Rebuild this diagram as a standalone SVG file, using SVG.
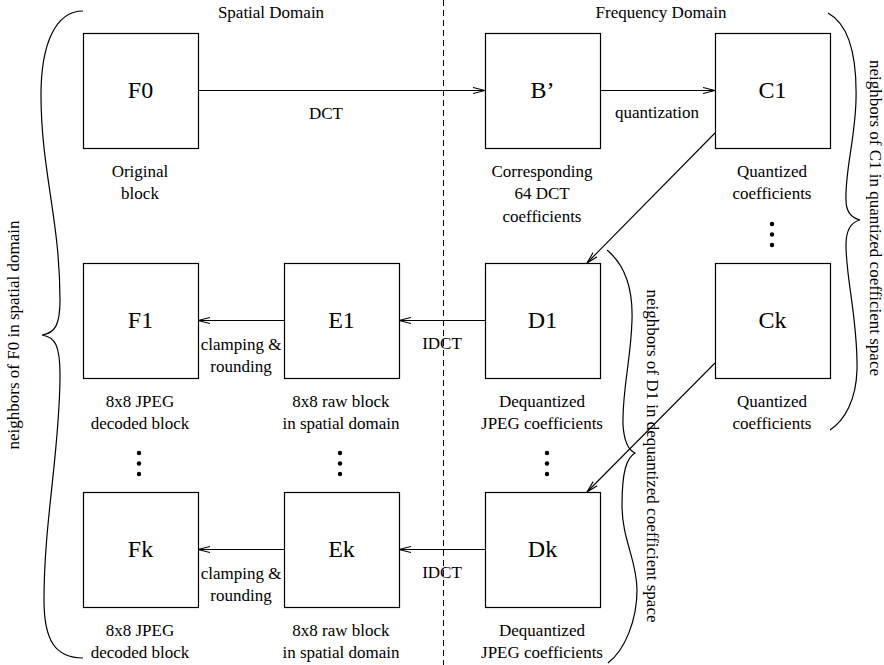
<svg xmlns="http://www.w3.org/2000/svg" width="884" height="665" viewBox="0 0 884 665">
<style>
.box{fill:#fff;stroke:#000;stroke-width:1.2}
.nl{font-family:"Liberation Serif","Times New Roman",serif;font-size:24px;text-anchor:middle;fill:#000}
.t{font-family:"Liberation Serif","Times New Roman",serif;font-size:17px;text-anchor:middle;fill:#000}
.ln{fill:none;stroke:#000;stroke-width:1.1}
.br{fill:none;stroke:#000;stroke-width:1.2}
.dot{fill:#000}
</style>
<defs>
<marker id="ah" markerUnits="userSpaceOnUse" markerWidth="14" markerHeight="10" refX="12" refY="4" orient="auto">
<path d="M0,1 L12,4 L0,7" fill="none" stroke="#000" stroke-width="1.1"/>
</marker>
</defs>
<rect width="884" height="665" fill="#fff"/>
<line x1="443.5" y1="0" x2="443.5" y2="665" stroke="#000" stroke-width="1" stroke-dasharray="6,4"/>
<text class="t" x="271" y="18">Spatial Domain</text>
<text class="t" x="661" y="18">Frequency Domain</text>
<g id="connectors">
<line class="ln" x1="198" y1="90.5" x2="485" y2="90.5" marker-end="url(#ah)"/>
<line class="ln" x1="600" y1="90.5" x2="715" y2="90.5" marker-end="url(#ah)"/>
<line class="ln" x1="485" y1="320.5" x2="399" y2="320.5" marker-end="url(#ah)"/>
<line class="ln" x1="284" y1="320.5" x2="198" y2="320.5" marker-end="url(#ah)"/>
<line class="ln" x1="485" y1="549.5" x2="399" y2="549.5" marker-end="url(#ah)"/>
<line class="ln" x1="284" y1="549.5" x2="198" y2="549.5" marker-end="url(#ah)"/>
<line class="ln" x1="715" y1="133" x2="587" y2="263" marker-end="url(#ah)"/>
<line class="ln" x1="715" y1="363" x2="587" y2="492" marker-end="url(#ah)"/>
<text class="t" x="326" y="119">DCT</text>
<text class="t" x="657" y="118">quantization</text>
<text class="t" x="442" y="349">IDCT</text>
<text class="t" x="442" y="578">IDCT</text>
<text class="t" x="241" y="350">clamping &amp;</text>
<text class="t" x="241" y="372">rounding</text>
<text class="t" x="241" y="579">clamping &amp;</text>
<text class="t" x="241" y="601">rounding</text>
</g>
<g id="F0"><rect class="box" x="83.5" y="33.5" width="115" height="115"/><text class="nl" x="140.5" y="98">F0</text>
<text class="t" x="140" y="177">Original</text><text class="t" x="140" y="199">block</text></g>
<g id="B"><rect class="box" x="485.5" y="33.5" width="115" height="115"/><text class="nl" x="542.5" y="98">B’</text>
<text class="t" x="542" y="177">Corresponding</text><text class="t" x="542" y="199">64 DCT</text><text class="t" x="542" y="222">coefficients</text></g>
<g id="C1"><rect class="box" x="715.5" y="33.5" width="115" height="115"/><text class="nl" x="772.5" y="98">C1</text>
<text class="t" x="772" y="177">Quantized</text><text class="t" x="772" y="199">coefficients</text>
<circle class="dot" cx="772" cy="224" r="2.2"/><circle class="dot" cx="772" cy="234.5" r="2.2"/><circle class="dot" cx="772" cy="245" r="2.2"/></g>
<g id="F1"><rect class="box" x="83.5" y="263.5" width="115" height="115"/><text class="nl" x="140.5" y="328">F1</text>
<text class="t" x="140" y="407">8x8 JPEG</text><text class="t" x="140" y="429">decoded block</text>
<circle class="dot" cx="139" cy="453" r="2.2"/><circle class="dot" cx="139" cy="463.5" r="2.2"/><circle class="dot" cx="139" cy="474" r="2.2"/></g>
<g id="E1"><rect class="box" x="284.5" y="263.5" width="115" height="115"/><text class="nl" x="341.5" y="328">E1</text>
<text class="t" x="341" y="407">8x8 raw block</text><text class="t" x="341" y="429">in spatial domain</text>
<circle class="dot" cx="340" cy="453" r="2.2"/><circle class="dot" cx="340" cy="463.5" r="2.2"/><circle class="dot" cx="340" cy="474" r="2.2"/></g>
<g id="D1"><rect class="box" x="485.5" y="263.5" width="115" height="115"/><text class="nl" x="542.5" y="328">D1</text>
<text class="t" x="542" y="407">Dequantized</text><text class="t" x="542" y="429">JPEG coefficients</text>
<circle class="dot" cx="547" cy="453" r="2.2"/><circle class="dot" cx="547" cy="463.5" r="2.2"/><circle class="dot" cx="547" cy="474" r="2.2"/></g>
<g id="Ck"><rect class="box" x="715.5" y="263.5" width="115" height="115"/><text class="nl" x="772.5" y="328">Ck</text>
<text class="t" x="772" y="407">Quantized</text><text class="t" x="772" y="429">coefficients</text></g>
<g id="Fk"><rect class="box" x="83.5" y="492.5" width="115" height="115"/><text class="nl" x="140.5" y="557">Fk</text>
<text class="t" x="140" y="636">8x8 JPEG</text><text class="t" x="140" y="658">decoded block</text></g>
<g id="Ek"><rect class="box" x="284.5" y="492.5" width="115" height="115"/><text class="nl" x="341.5" y="557">Ek</text>
<text class="t" x="341" y="636">8x8 raw block</text><text class="t" x="341" y="658">in spatial domain</text></g>
<g id="Dk"><rect class="box" x="485.5" y="492.5" width="115" height="115"/><text class="nl" x="542.5" y="557">Dk</text>
<text class="t" x="542" y="636">Dequantized</text><text class="t" x="542" y="658">JPEG coefficients</text></g>
<g id="brace-F0">
<path class="br" d="M83,11 C55,11 41,45 41,95 C41,170 60,220 60,300 C60,325 55,333 42,335 C55,337 60,345 60,375 C60,450 44,520 44,600 C44,640 55,658 83,658"/>
<text class="t" transform="translate(19,335) rotate(-90)">neighbors of F0 in spatial domain</text>
</g>
<g id="brace-D1">
<path class="br" d="M607,250 C625,265 633,290 632,320 C631,360 622,390 623,425 C624,440 628,450 635,453 C627,458 622,470 622,505 C622,540 637,560 637,590 C637,620 625,650 608,663"/>
<text class="t" transform="translate(647,456) rotate(90)">neighbors of D1 in dequantized coefficient space</text>
</g>
<g id="brace-C1">
<path class="br" d="M828,13 C850,25 857,60 856,100 C855,140 845,170 846,200 C846,212 852,218 860,220 C852,222 846,228 846,245 C846,280 858,320 857,370 C856,400 845,420 830,430"/>
<text class="t" transform="translate(870,218) rotate(90)">neighbors of C1 in quantized coefficient space</text>
</g>
</svg>
